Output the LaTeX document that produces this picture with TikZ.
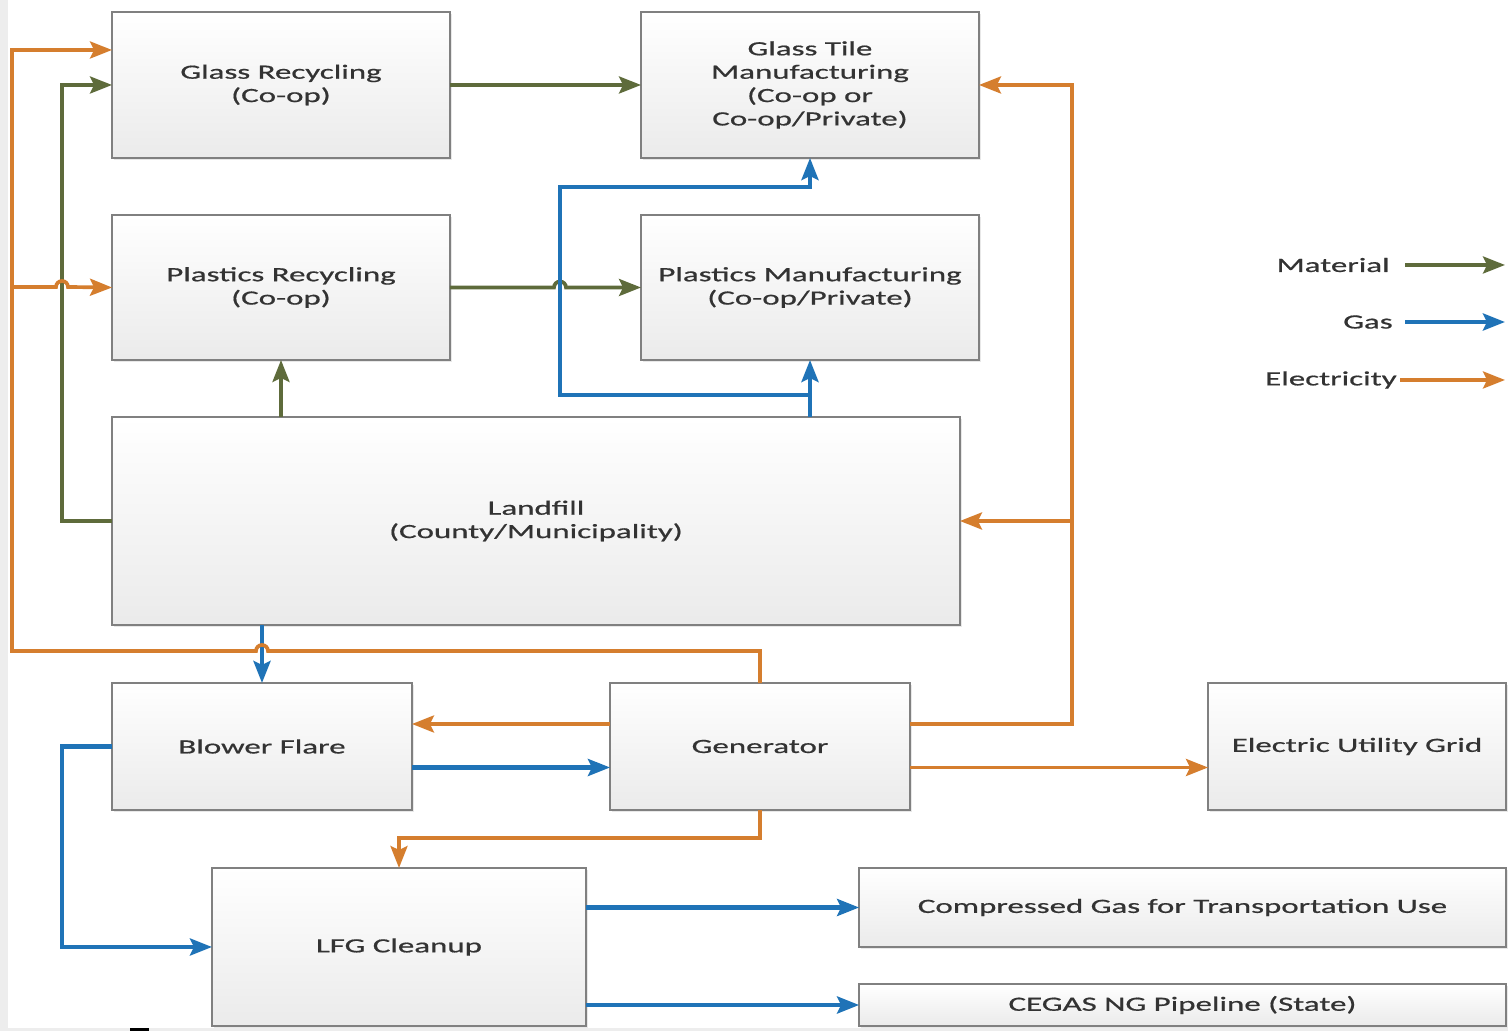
\documentclass[tikz,border=0pt]{standalone}
\usepackage{fontspec}
\setmainfont{Carlito}[FakeStretch=1.63, FakeBold=0.7]
\usetikzlibrary{arrows.meta,shadows}
\definecolor{matc}{HTML}{5E6B3B}
\definecolor{gasc}{HTML}{1F73B7}
\definecolor{elec}{HTML}{D57E2E}
\definecolor{txt}{HTML}{333333}
\definecolor{bord}{HTML}{808080}
\begin{document}
\begin{tikzpicture}[x=0.02cm,y=0.02cm,
  box/.style={draw=bord, line width=1pt, top color=white, bottom color=black!8,
    outer sep=0pt, inner sep=2pt, align=center, text=txt,
    font=\fontsize{11.5}{13.3}\selectfont,
    drop shadow={opacity=0.18, shadow xshift=1.2pt, shadow yshift=-1.2pt}},
  lbl/.style={text=txt, font=\fontsize{11.5}{13.3}\selectfont, inner sep=0pt},
  flow/.style={line width=2.1pt, -{Stealth[length=0.44cm,width=0.34cm,inset=0.08cm]}},
  mat/.style={flow, draw=matc},
  gas/.style={flow, draw=gasc, line width=2.4pt},
  ele/.style={flow, draw=elec}]
\useasboundingbox (0,0) rectangle (1508,1031);
\fill[black!7] (0,0) rectangle (8,1031);
\fill[black!7] (0,0) rectangle (1508,3);
\fill[black] (130,0) rectangle (149,3);

% boxes
\node[box, minimum width=6.76cm, minimum height=2.92cm] (gr) at (281,946) {Glass Recycling\\(Co-op)};
\node[box, minimum width=6.76cm, minimum height=2.92cm] (gt) at (810,946) {Glass Tile\\Manufacturing\\(Co-op or\\Co-op/Private)};
\node[box, minimum width=6.76cm, minimum height=2.90cm] (pr) at (281,743.5) {Plastics Recycling\\(Co-op)};
\node[box, minimum width=6.76cm, minimum height=2.90cm] (pm) at (810,743.5) {Plastics Manufacturing\\(Co-op/Private)};
\node[box, minimum width=16.96cm, minimum height=4.16cm] (lf) at (536,510) {Landfill\\(County/Municipality)};
\node[box, minimum width=6cm, minimum height=2.54cm] (bf) at (262,284.5) {Blower Flare};
\node[box, minimum width=6cm, minimum height=2.54cm] (gen) at (760,284.5) {Generator};
\node[box, minimum width=5.96cm, minimum height=2.54cm] (eug) at (1357,284.5) {Electric Utility Grid};
\node[box, minimum width=7.48cm, minimum height=3.16cm] (lfg) at (399,84) {LFG Cleanup};
\node[box, minimum width=12.94cm, minimum height=1.58cm] (cg) at (1182.5,123.5) {Compressed Gas for Transportation Use};
\node[box, minimum width=12.94cm, minimum height=0.84cm] (ce) at (1182.5,26) {CEGAS NG Pipeline (State)};

% legend
\node[lbl, anchor=east] (lgm) at (1390,766) {Material};
\node[lbl, anchor=east] (lgg) at (1393,709) {Gas};
\node[lbl, anchor=east] (lge) at (1397,651) {Electricity};
\coordinate (lgmE) at (1505,766);
\coordinate (lggE) at (1505,709);
\coordinate (lgeE) at (1505,651);
\draw[mat] ([xshift=0.3cm]lgm.east) -- (lgmE);
\draw[gas] ([xshift=0.24cm]lgg.east) -- (lggE);
\draw[ele] ([xshift=0.06cm]lge.east) -- (lgeE);

% material
\draw[mat] (gr.east) -- (gt.west);
\draw[mat] (pr.east) -- (554,743.5) arc[start angle=180,end angle=0,radius=0.12cm] -- (pm.west);
\draw[mat] (lf.west) -- ++(-50,0) |- (gr.west);
\draw[mat] (lf.north -| pr.south) -- (pr.south);

% gas
\draw[gas] (lf.north -| pm.south) -- (pm.south);
\coordinate (gj) at (810,636);
\draw[gas] (gj) -- (560,636) -- (560,844) -| (gt.south);
\draw[gas] (lf.south -| bf.north) -- (bf.north);
\draw[gas] ([yshift=-0.42cm]bf.east) -- ([yshift=-0.42cm]gen.west);
\draw[gas] (bf.west) -- ++(-50,0) |- (lfg.west);
\draw[gas] (lfg.east |- cg.west) -- (cg.west);
\draw[gas] (lfg.east |- ce.west) -- (ce.west);

% electricity
\draw[ele] (gen.north) -- (760,380) -- (268,380) arc[start angle=0,end angle=180,radius=0.12cm] -- (12,380) -- (12,981) -- (gr.west |- 0,981);
\coordinate (ej1) at (12,744);
\draw[ele] (ej1) -- (56,744) arc[start angle=180,end angle=0,radius=0.12cm] -- (pr.west);
\draw[ele] ([yshift=0.45cm]gen.east) -- ++(162,0) |- (gt.east);
\coordinate (ej2) at (1072,510);
\draw[ele] (ej2) -- (lf.east);
\draw[ele] ([yshift=0.45cm]gen.west) -- ([yshift=0.45cm]bf.east);
\draw[ele] ([yshift=-0.42cm]gen.east) -- ([yshift=-0.42cm]eug.west);
\draw[ele] (gen.south) -- ++(0,-28) -| (lfg.north);
\end{tikzpicture}
\end{document}
